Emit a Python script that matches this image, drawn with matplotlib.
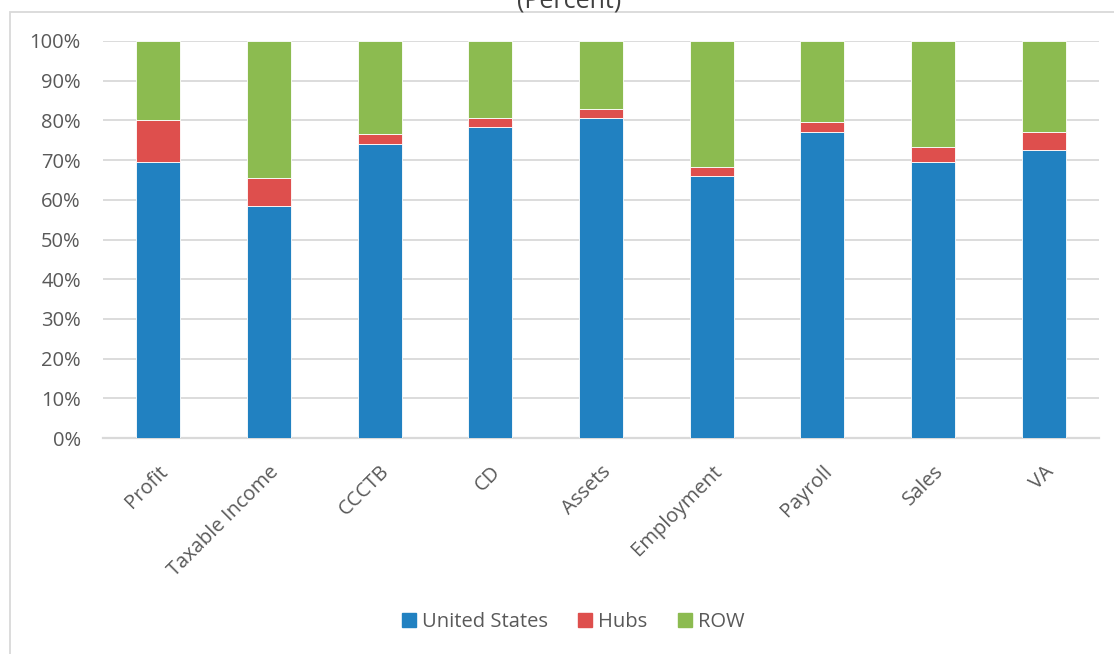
import matplotlib
matplotlib.use("Agg")
import matplotlib.pyplot as plt
from matplotlib.patches import Rectangle
import numpy as np

categories = ["Profit", "Taxable Income", "CCCTB", "CD", "Assets",
              "Employment", "Payroll", "Sales", "VA"]
united_states = [69.6, 58.5, 74.0, 78.3, 80.7, 66.0, 77.1, 69.6, 72.5]
hubs = [10.4, 7.1, 2.7, 2.4, 2.2, 2.2, 2.4, 3.8, 4.7]
row = [100 - u - h for u, h in zip(united_states, hubs)]

series_names = ["United States", "Hubs", "ROW"]
series_colors = ["#2181C1", "#DE4F4D", "#8CBB50"]
tick_labels = ["0%", "10%", "20%", "30%", "40%", "50%",
               "60%", "70%", "80%", "90%", "100%"]

plt.rcParams["font.family"] = ["Open Sans", "DejaVu Sans"]

W, H = 1114, 654
fig = plt.figure(figsize=(W / 100, H / 100), dpi=100)
fig.patch.set_facecolor("white")

# chart frame (extends past the right and bottom edges)
fig.patches.append(Rectangle((10 / W, -0.1), 1.2, 1 - 12 / H + 0.1,
                             transform=fig.transFigure, fill=False,
                             edgecolor="#D9D9D9", linewidth=1.3))

ax = fig.add_axes([103 / W, 1 - 438 / H, (1099 - 103) / W, (438 - 41) / H])

x = np.arange(len(categories))
width = 0.40
bottom = np.zeros(len(categories))
for name, vals, col in zip(series_names, [united_states, hubs, row], series_colors):
    ax.bar(x, vals, width, bottom=bottom, color=col, label=name,
           edgecolor="white", linewidth=0.6, zorder=3)
    bottom += np.array(vals)

ax.set_xlim(-0.5, len(categories) - 0.5)
ax.set_ylim(0, 100)
ax.set_yticks(np.arange(0, 101, 10))
ax.set_yticklabels(tick_labels)
ax.grid(axis="y", color="#D9D9D9", linewidth=1.3, zorder=0)
ax.set_axisbelow(True)
for s in ["top", "right", "left"]:
    ax.spines[s].set_visible(False)
ax.spines["bottom"].set_color("#D9D9D9")
ax.spines["bottom"].set_linewidth(1.6)
ax.tick_params(axis="y", length=0, pad=16, labelsize=14.5, labelcolor="#595959")
ax.tick_params(axis="x", length=0, pad=17, labelsize=14.5, labelcolor="#595959")
ax.set_xticks(x)
ax.set_xticklabels(categories, rotation=45, ha="right", va="top",
                   rotation_mode="anchor")

fig.text(569 / W, 1 - 7 / H, "(Percent)", ha="center", va="baseline",
         fontsize=18, color="#404040")

handles = [Rectangle((0, 0), 1, 1, color=c) for c in series_colors]
fig.legend(handles, series_names, loc="center", bbox_to_anchor=(573 / W, 1 - 622 / H),
           ncol=3, frameon=False, fontsize=14.5, labelcolor="#595959",
           handlelength=0.7, handleheight=0.7, handletextpad=0.3,
           columnspacing=1.5)

fig.savefig("out.png", dpi=100)
